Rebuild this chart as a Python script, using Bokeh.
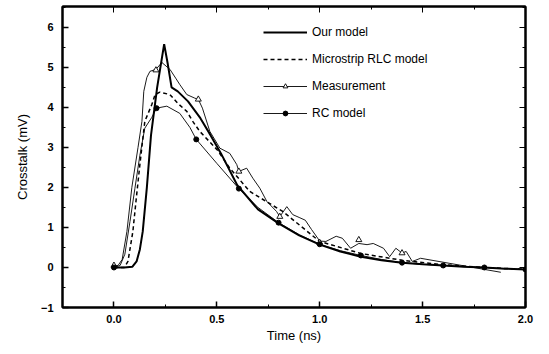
from bokeh.plotting import figure
from bokeh.models import (Range1d, SingleIntervalTicker, LinearAxis, Legend, LegendItem,
                          NumeralTickFormatter, CustomLabelingPolicy)
from bokeh.embed import file_html
from bokeh.resources import INLINE

# ---- data ----
our_t = [0.0, 0.05, 0.09, 0.11, 0.126, 0.14, 0.16, 0.18, 0.21, 0.244, 0.262, 0.28, 0.31,
         0.36, 0.42, 0.47, 0.52, 0.6, 0.7, 0.8, 0.9, 1.0, 1.1, 1.2, 1.3, 1.4, 1.5, 1.6,
         1.7, 1.8, 1.9, 2.0]
our_v = [0.0, 0.0, 0.02, 0.15, 0.45, 0.9, 2.0, 3.3, 4.5, 5.58, 5.07, 4.5, 4.4,
         4.15, 3.73, 3.3, 2.85, 2.05, 1.45, 1.1, 0.8, 0.57, 0.4, 0.27, 0.18, 0.12, 0.08,
         0.05, 0.02, 0.0, -0.03, -0.05]

rlc_t = [0.0, 0.05, 0.068, 0.092, 0.107, 0.126, 0.15, 0.184, 0.2, 0.223, 0.272, 0.31,
         0.354, 0.383, 0.417, 0.5, 0.563, 0.66, 0.82, 1.0, 1.2, 1.4, 1.6, 1.8, 2.0]
rlc_v = [0.0, 0.0, 0.15, 0.9, 1.65, 2.57, 3.65, 4.07, 4.32, 4.38, 4.32, 4.1,
         3.9, 3.65, 3.4, 2.95, 2.48, 1.9, 1.4, 0.65, 0.35, 0.18, 0.07, 0.0, -0.05]

meas_t = [0.0, 0.02, 0.04, 0.063, 0.087, 0.117, 0.136, 0.145, 0.16, 0.175, 0.204, 0.233,
          0.272, 0.30, 0.32, 0.354, 0.393, 0.41, 0.43, 0.466, 0.515, 0.563, 0.597, 0.607,
          0.645, 0.675, 0.709, 0.743, 0.79, 0.806, 0.84, 0.869, 0.90, 0.93, 0.96, 1.0,
          1.03, 1.08, 1.11, 1.15, 1.19, 1.23, 1.26, 1.31, 1.34, 1.37, 1.40, 1.42, 1.45,
          1.49, 1.88]
meas_v = [0.05, 0.05, 0.2, 0.9, 2.0, 3.0, 3.65, 4.4, 4.75, 4.9, 4.95, 5.12,
          4.95, 4.73, 4.57, 4.32, 4.23, 4.2, 3.98, 3.4, 2.98, 2.85, 2.57, 2.4,
          2.48, 2.23, 1.98, 1.65, 1.4, 1.27, 1.52, 1.32, 1.25, 1.18, 0.95, 0.66,
          0.65, 0.78, 0.73, 0.48, 0.6, 0.57, 0.6, 0.48, 0.27, 0.48, 0.36, 0.4, 0.15,
          0.23, -0.12]
meas_mark_t = [0.0, 0.204, 0.41, 0.607, 0.806, 1.0, 1.19, 1.40]
meas_mark_v = [0.05, 4.93, 4.2, 2.4, 1.27, 0.62, 0.69, 0.36]

rc_t = [0.0, 0.03, 0.053, 0.078, 0.102, 0.126, 0.15, 0.184, 0.207, 0.257, 0.32, 0.369,
        0.40, 0.5, 0.607, 0.7, 0.8, 0.9, 1.0, 1.1, 1.2, 1.3, 1.4, 1.5, 1.6, 1.7, 1.8,
        1.9, 2.0]
rc_v = [0.0, 0.05, 0.33, 1.15, 1.98, 2.8, 3.48, 3.75, 3.98, 4.03, 3.85, 3.5,
        3.2, 2.6, 1.97, 1.5, 1.12, 0.82, 0.58, 0.42, 0.3, 0.2, 0.12, 0.08, 0.05, 0.02, 0.0,
        -0.03, -0.05]
rc_mark_t = [0.0, 0.207, 0.40, 0.607, 0.8, 1.0, 1.2, 1.4, 1.6, 1.8, 2.0]
rc_mark_v = [0.0, 3.98, 3.2, 1.97, 1.12, 0.58, 0.3, 0.12, 0.05, 0.0, -0.05]

labels = ["Our model", "Microstrip RLC model", "Measurement", "RC model"]
x_label = "Time (ns)"
y_label = "Crosstalk (mV)"

FONT = "Liberation Sans"

p = figure(width=549, height=354, output_backend="svg", toolbar_location=None,
           x_range=Range1d(-0.25, 2.0), y_range=Range1d(-1, 6.52),
           min_border_left=62, min_border_right=24, min_border_top=6, min_border_bottom=47)
p.grid.visible = False
p.outline_line_color = "black"
p.outline_line_width = 2
p.background_fill_color = "white"
p.border_fill_color = "white"

xt = SingleIntervalTicker(interval=0.5, num_minor_ticks=2)
yt = SingleIntervalTicker(interval=1, num_minor_ticks=2)
p.xaxis.ticker = xt
p.yaxis.ticker = yt
p.xaxis.formatter = NumeralTickFormatter(format="0.0")

for ax in (p.xaxis[0], p.yaxis[0]):
    ax.major_tick_in = 6
    ax.major_tick_out = 0
    ax.minor_tick_in = 3
    ax.minor_tick_out = 0
    ax.major_tick_line_color = "black"
    ax.minor_tick_line_color = "black"
    ax.major_tick_line_width = 1.5
    ax.axis_line_width = 2
    ax.major_label_text_font = FONT
    ax.major_label_text_font_style = "bold"
    ax.major_label_text_font_size = "11px"
    ax.major_label_text_color = "black"
    ax.axis_label_text_font = FONT
    ax.axis_label_text_font_style = "normal"
    ax.axis_label_text_font_size = "13px"
    ax.axis_label_text_color = "black"

p.xaxis.axis_label = x_label
p.yaxis.axis_label = y_label
p.xaxis.major_label_standoff = 7
p.xaxis.axis_label_standoff = 2
p.yaxis.major_label_standoff = 9
p.yaxis.axis_label_standoff = 8

# mirrored ticks (no labels) on top and right
hide_all = CustomLabelingPolicy(code="""
const ii = [...indices];
for (const i of ii) indices.unset(i);
return indices;
""")
for loc, tk in (("above", xt), ("right", yt)):
    ax = LinearAxis(ticker=tk, major_label_policy=hide_all)
    ax.major_label_text_font_size = "0px"
    ax.major_label_standoff = 0
    ax.major_tick_in = 6
    ax.major_tick_out = 0
    ax.minor_tick_in = 3
    ax.minor_tick_out = 0
    ax.axis_line_width = 2
    p.add_layout(ax, loc)

r_meas = p.line(meas_t, meas_v, line_color="black", line_width=0.9)
r_rc = p.line(rc_t, rc_v, line_color="black", line_width=0.9)
r_rlc = p.line(rlc_t, rlc_v, line_color="black", line_width=1.5, line_dash="4 3")
r_our = p.line(our_t, our_v, line_color="black", line_width=2)
m_meas = p.scatter(meas_mark_t, meas_mark_v, marker="triangle", size=6,
                   line_color="black", fill_color="white", line_width=0.9)
m_rc = p.scatter(rc_mark_t, rc_mark_v, marker="circle", size=5,
                 line_color="black", fill_color="black")

legend = Legend(items=[
    LegendItem(label=labels[0], renderers=[r_our]),
    LegendItem(label=labels[1], renderers=[r_rlc]),
    LegendItem(label=labels[2], renderers=[r_meas, m_meas]),
    LegendItem(label=labels[3], renderers=[r_rc, m_rc]),
], location=(201, 187))
legend.background_fill_alpha = 0
legend.border_line_color = None
legend.padding = 0
legend.margin = 0
legend.spacing = 13
legend.glyph_width = 44
legend.glyph_height = 12
legend.label_height = 12
legend.label_standoff = 5
legend.label_text_font = FONT
legend.label_text_font_size = "12px"
legend.label_text_color = "black"
p.add_layout(legend)

open("out.html", "w").write(file_html(p, INLINE))
